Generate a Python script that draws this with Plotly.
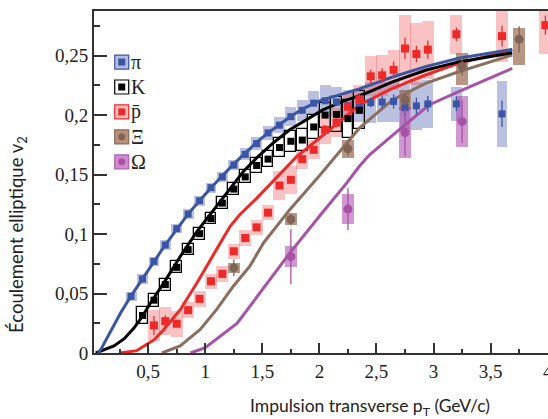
import plotly.graph_objects as go

# ---------------- data ----------------
# pions
pi_pt = [0.35, 0.45, 0.55, 0.65, 0.75, 0.85, 0.95, 1.05, 1.15, 1.25, 1.35, 1.45, 1.55, 1.65, 1.75, 1.85, 1.95,
         2.05, 2.15, 2.25, 2.35, 2.45, 2.55, 2.65, 2.75, 2.85, 2.95, 3.2, 3.6]
pi_v2 = [0.0476, 0.0622, 0.077, 0.0908, 0.1045, 0.1168, 0.128, 0.139, 0.148, 0.158, 0.167, 0.176, 0.185, 0.1915,
         0.1987, 0.204, 0.21, 0.212, 0.211, 0.208, 0.207, 0.2105, 0.211, 0.2115, 0.2063, 0.2077, 0.2094, 0.2094, 0.201]
pi_sys = [0.004, 0.004, 0.004, 0.004, 0.004, 0.0042, 0.0042, 0.0042, 0.0045, 0.0045, 0.005, 0.0055, 0.006, 0.0065,
          0.008, 0.009, 0.01, 0.013, 0.013, 0.013, 0.013, 0.017, 0.017, 0.017, 0.02, 0.02, 0.02, 0.0145, 0.0276]
pi_stat = [0.001] * 21 + [0.004, 0.005, 0.006, 0.007, 0.007, 0.0066, 0.006, 0.011]

# kaons
k_pt = [0.45, 0.55, 0.65, 0.75, 0.85, 0.95, 1.05, 1.15, 1.25, 1.35, 1.45, 1.55, 1.65, 1.75, 1.85, 1.95,
        2.05, 2.15, 2.25, 2.35]
k_v2 = [0.0315, 0.0444, 0.0575, 0.072, 0.0869, 0.1003, 0.113, 0.126, 0.1378, 0.148, 0.1576, 0.163, 0.1727, 0.178,
        0.179, 0.19, 0.2, 0.2005, 0.197, 0.204]
k_sys = [0.007, 0.0055, 0.005, 0.005, 0.0049, 0.0049, 0.0049, 0.005, 0.005, 0.0055, 0.006, 0.0065, 0.008, 0.009,
         0.009, 0.0098, 0.0105, 0.0147, 0.016, 0.016]

# anti-protons
p_pt = [0.55, 0.65, 0.75, 0.85, 0.95, 1.05, 1.15, 1.25, 1.35, 1.45, 1.55, 1.65, 1.75, 1.85, 1.95,
        2.05, 2.15, 2.25, 2.35, 2.45, 2.55, 2.65, 2.75, 2.85, 2.95, 3.2, 3.6, 3.98]
p_v2 = [0.0232, 0.0268, 0.0246, 0.036, 0.0455, 0.0603, 0.0665, 0.0855, 0.0967, 0.1056, 0.118, 0.1408, 0.1456, 0.163,
        0.1708, 0.1876, 0.1937, 0.207, 0.2133, 0.2326, 0.2334, 0.238, 0.256, 0.2513, 0.255, 0.268, 0.2664, 0.2756]
p_sys = [0.013, 0.012, 0.011, 0.0065, 0.0065, 0.0065, 0.0065, 0.0065, 0.0065, 0.0065, 0.0065, 0.012, 0.012, 0.008,
         0.008, 0.012, 0.012, 0.012, 0.012, 0.0168, 0.0175, 0.0168, 0.028, 0.026, 0.0245, 0.0165, 0.022, 0.024]
p_stat = [0.008, 0.005, 0.003, 0.003, 0.003, 0.003, 0.003, 0.003, 0.003, 0.003, 0.003, 0.003, 0.003, 0.003, 0.003,
          0.004, 0.004, 0.004, 0.005, 0.0056, 0.006, 0.007, 0.009, 0.007, 0.0077, 0.0056, 0.0087, 0.008]

# Xi
xi_pt = [1.25, 1.75, 2.25, 2.75, 3.25, 3.75]
xi_v2 = [0.0716, 0.1123, 0.1716, 0.2127, 0.241, 0.2637]
xi_sys_lo = [0.0042, 0.005, 0.0077, 0.0084, 0.0157, 0.0212]
xi_sys_hi = [0.0042, 0.005, 0.0077, 0.0084, 0.0114, 0.0092]
xi_stat = [0.007, 0.005, 0.006, 0.005, 0.0077, 0.011]

# Omega
om_pt = [1.75, 2.25, 2.75, 3.25]
om_v2 = [0.081, 0.121, 0.1853, 0.1945]
om_sys = [0.009, 0.0126, 0.0217, 0.0217]
om_stat = [0.0233, 0.0175, 0.02, 0.018]

# hydrodynamic curves
hpi_pt = [0.06, 0.085, 0.17, 0.26, 0.35, 0.45, 0.55, 0.65, 0.75, 0.85, 0.95, 1.05, 1.15, 1.25, 1.35, 1.45, 1.55,
          1.65, 1.75, 1.85, 2.0, 2.35, 2.64, 2.93, 3.22, 3.69]
hpi_v2 = [0.0, 0.003, 0.018, 0.034, 0.048, 0.0625, 0.077, 0.091, 0.104, 0.117, 0.128, 0.139, 0.149, 0.159, 0.168,
          0.177, 0.185, 0.192, 0.199, 0.205, 0.212, 0.222, 0.232, 0.2407, 0.2477, 0.2552]
hk_pt = [0.04, 0.12, 0.2, 0.29, 0.375, 0.45, 0.52, 0.637, 0.782, 0.928, 1.072, 1.218, 1.334, 1.45, 1.6, 1.74,
         1.86, 2.03, 2.2, 2.41, 2.64, 2.93, 3.22, 3.69]
hk_v2 = [0.0, 0.003, 0.006, 0.012, 0.021, 0.031, 0.042, 0.059, 0.0813, 0.1023, 0.1205, 0.1387, 0.1526, 0.164,
         0.177, 0.1876, 0.1946, 0.2044, 0.2113, 0.2184, 0.228, 0.2377, 0.2447, 0.2523]
hp_pt = [0.25, 0.4, 0.55, 0.637, 0.782, 0.928, 1.072, 1.218, 1.3, 1.45, 1.6, 1.8, 2.09, 2.35, 2.64, 2.93, 3.22, 3.69]
hp_v2 = [0.0, 0.002, 0.011, 0.0198, 0.0366, 0.059, 0.0827, 0.1065, 0.116, 0.13, 0.145, 0.165, 0.1876, 0.2085,
         0.2225, 0.2337, 0.2435, 0.2547]
hxi_pt = [0.62, 0.78, 0.956, 1.1, 1.245, 1.39, 1.51, 1.74, 2.0, 2.2, 2.35, 2.64, 2.93, 3.22, 3.69]
hxi_v2 = [0.0, 0.006, 0.0198, 0.0366, 0.0561, 0.0729, 0.0925, 0.1205, 0.149, 0.172, 0.189, 0.2127, 0.2266, 0.2364,
          0.2505]
hom_pt = [0.87, 1.0, 1.28, 1.57, 1.74, 2.0, 2.24, 2.35, 2.44, 2.64, 2.96, 3.22, 3.69]
hom_v2 = [0.0, 0.0044, 0.025, 0.0617, 0.084, 0.115, 0.143, 0.157, 0.1666, 0.183, 0.2085, 0.2197, 0.2393]

# legend
leg_labels = ["π", "K", "p̄", "Ξ", "Ω"]
leg_v2 = [0.2446, 0.2236, 0.2027, 0.1817, 0.1607]

x_tickvals = [0.5, 1, 1.5, 2, 2.5, 3, 3.5, 4]
x_ticktext = ["0,5", "1", "1,5", "2", "2,5", "3", "3,5", "4"]
y_tickvals = [0, 0.05, 0.1, 0.15, 0.2, 0.25]
y_ticktext = ["0", "0,05", "0,1", "0,15", "0,2", "0,25"]

# ---------------- style ----------------
BLUE = "#3b55a5"
RED = "#ec2a2a"
BROWN = "#7f6456"
PURPLE = "#a653a6"
BLACK = "#000000"
BROWN_LINE = "#8a6e60"

fig = go.Figure()


def boxes(x, y, lo, hi, width, fill, line_color=None, line_width=0):
    fig.add_trace(go.Bar(
        x=x, y=[a + b for a, b in zip(lo, hi)], base=[v - l for v, l in zip(y, lo)],
        width=width, marker=dict(color=fill, line=dict(color=line_color or fill, width=line_width)),
        showlegend=False, hoverinfo="skip"))


boxes(pi_pt, pi_v2, pi_sys, pi_sys, 0.095, "rgba(60,80,170,0.36)")
boxes(p_pt, p_v2, p_sys, p_sys, 0.105, "rgba(240,70,70,0.33)")
boxes(xi_pt, xi_v2, xi_sys_lo, xi_sys_hi, 0.1, "rgba(140,85,55,0.62)")
boxes(om_pt, om_v2, om_sys, om_sys, 0.1, "rgba(170,65,170,0.55)")
boxes(k_pt, k_v2, k_sys, k_sys, 0.095, "rgba(255,255,255,0)", BLACK, 1.3)

# curves
for xs, ys, c in [(hom_pt, hom_v2, PURPLE), (hxi_pt, hxi_v2, BROWN_LINE), (hp_pt, hp_v2, RED),
                  (hk_pt, hk_v2, BLACK), (hpi_pt, hpi_v2, BLUE)]:
    fig.add_trace(go.Scatter(x=xs, y=ys, mode="lines", line=dict(color=c, width=3),
                             showlegend=False, hoverinfo="skip"))


def points(x, y, err, color, symbol, size):
    fig.add_trace(go.Scatter(
        x=x, y=y, mode="markers",
        marker=dict(color=color, symbol=symbol, size=size, line=dict(width=0)),
        error_y=dict(type="data", array=err, color=color, thickness=1.3, width=0) if err else None,
        showlegend=False, hoverinfo="skip"))


points(pi_pt, pi_v2, pi_stat, BLUE, "square", 7)
points(k_pt, k_v2, None, BLACK, "square", 7)
points(p_pt, p_v2, p_stat, RED, "square", 8)
points(xi_pt, xi_v2, xi_stat, BROWN, "circle", 9)
points(om_pt, om_v2, om_stat, PURPLE, "circle", 9)

# legend (drawn in data space)
leg_x = [0.268] * 5
leg_fill = ["#b6bbdf", "#ffffff", "#f8bcbc", "#b98f7a", "#cf8ccd"]
leg_edge = [BLUE, BLACK, RED, "#8a6a5a", "#b060b0"]
leg_mark = [BLUE, BLACK, RED, BROWN, PURPLE]
leg_sym = ["square", "square", "square", "circle", "circle"]
fig.add_trace(go.Scatter(x=leg_x, y=leg_v2, mode="markers",
                         marker=dict(symbol="square", size=14, color=leg_fill,
                                     line=dict(color=leg_edge, width=1.2)),
                         showlegend=False, hoverinfo="skip"))
fig.add_trace(go.Scatter(x=leg_x, y=leg_v2, mode="markers",
                         marker=dict(symbol=leg_sym, size=7, color=leg_mark, line=dict(width=0)),
                         showlegend=False, hoverinfo="skip"))
for lab, yv in zip(leg_labels, leg_v2):
    fig.add_annotation(x=0.335, y=yv, text=lab, showarrow=False, xanchor="left", yanchor="middle",
                       font=dict(family="Liberation Serif", size=20, color="#222"))

AX = "#333333"
fig.update_layout(
    width=548, height=419,
    margin=dict(l=94, r=0, t=11, b=66),
    paper_bgcolor="white", plot_bgcolor="white",
    barmode="overlay", bargap=0,
    showlegend=False,
    xaxis=dict(range=[0.025, 4.003], tickvals=x_tickvals, ticktext=x_ticktext,
               ticks="inside", ticklen=10, tickwidth=1.5, tickcolor=AX, ticklabeloverflow="allow",
               minor=dict(ticks="inside", ticklen=4, tickwidth=1.5, tickcolor=AX, dtick=0.25, tick0=0,
                          showgrid=False),
               showline=True, linecolor=AX, linewidth=2, mirror=True, showgrid=False, zeroline=False,
               tickfont=dict(family="Liberation Serif", size=19, color="#222"), automargin=False),
    yaxis=dict(range=[0, 0.2875], tickvals=y_tickvals, ticktext=y_ticktext,
               ticks="inside", ticklen=13, tickwidth=1.5, tickcolor=AX,
               minor=dict(ticks="inside", ticklen=6, tickwidth=1.5, tickcolor=AX, dtick=0.025, tick0=0,
                          showgrid=False),
               showline=True, linecolor=AX, linewidth=2, showgrid=False, zeroline=False,
               tickfont=dict(family="Liberation Serif", size=19, color="#222"), automargin=False),
)

fig.add_annotation(xref="paper", yref="paper", x=0.608, y=-0.158, text="Impulsion transverse p<sub>T</sub> (GeV/c)",
                   showarrow=False, xanchor="center", yanchor="middle",
                   font=dict(family="Lato", size=17.5, color="#222"))
fig.add_annotation(xref="paper", yref="paper", x=-0.1696, y=0.345, text="Écoulement elliptique v<sub>2</sub>",
                   showarrow=False, xanchor="center", yanchor="middle", textangle=-90,
                   font=dict(family="Lato", size=18.5, color="#222"))

fig.write_html("out.html", config={"displayModeBar": False},
               post_script="document.body.style.margin='0';document.body.style.overflow='hidden';")
